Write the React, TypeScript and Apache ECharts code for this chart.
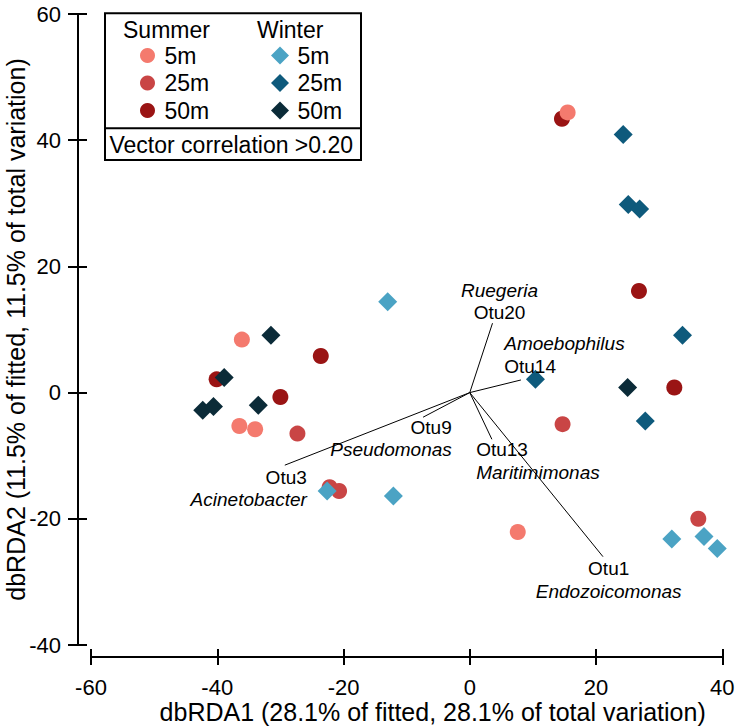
import React, { useEffect, useRef } from 'react';
import * as echarts from 'echarts';

// ---- data ----
const summer5m: number[][] = [[-36.1, 8.4], [-36.5, -5.3], [-34.0, -5.8], [15.5, 44.4], [7.6, -22.1]];
const summer25m: number[][] = [[-27.3, -6.5], [-22.2, -15.0], [-20.7, -15.6], [14.7, -5.0], [36.2, -20.0], [40.2, -24.4]];
const summer50m: number[][] = [[-40.1, 2.1], [-23.6, 5.8], [-30.0, -0.7], [14.6, 43.4], [26.8, 16.1], [32.4, 0.8]];
const winter5m: number[][] = [[-13.0, 14.4], [-22.6, -15.6], [-12.1, -16.4], [32.0, -23.2], [37.1, -22.8], [39.2, -24.7]];
const winter25m: number[][] = [[24.3, 40.9], [25.1, 29.8], [26.9, 29.1], [33.7, 9.1], [10.4, 2.1], [27.8, -4.5]];
const winter50m: number[][] = [[-31.5, 9.1], [-38.9, 2.4], [-42.3, -2.8], [-40.6, -2.2], [-33.5, -2.0], [25.0, 0.8]];

const vectorNames = ['Otu20', 'Otu14', 'Otu9', 'Otu13', 'Otu1', 'Otu3'];
const vectorGenera = ['Ruegeria', 'Amoebophilus', 'Pseudomonas', 'Maritimimonas', 'Endozoicomonas', 'Acinetobacter'];
const vectorX = [3.6, 8.1, -7.4, 3.5, 21.1, -29.3];
const vectorY = [11.0, 2.0, -3.9, -7.4, -26.0, -11.5];

const xTitle = 'dbRDA1 (28.1% of fitted, 28.1% of total variation)';
const yTitle = 'dbRDA2 (11.5% of fitted, 11.5% of total variation)';
const legendNote = 'Vector correlation >0.20';

// ---- styles ----
const FONT = '"Liberation Sans", Arial, Helvetica, sans-serif';
const colors = {
  s5: '#F47A6E',
  s25: '#C94545',
  s50: '#9A1414',
  w5: '#4BA3C4',
  w25: '#0E5A7C',
  w50: '#0B2B38',
};
const labelLayout = [
  { genusFirst: true, align: 'center', va: 'bottom', offset: [7, 1] },
  { genusFirst: true, align: 'left', va: 'bottom', offset: [-16.7, -2.3] },
  { genusFirst: false, align: 'right', va: 'top', offset: [28.7, -1.3] },
  { genusFirst: false, align: 'left', va: 'top', offset: [-15.7, -1] },
  { genusFirst: false, align: 'center', va: 'top', offset: [5.7, 0.6] },
  { genusFirst: false, align: 'right', va: 'top', offset: [22, 1] },
];

export default function App() {
  const ref = useRef<HTMLDivElement>(null);
  useEffect(() => {
    if (!ref.current) return;
    const chart = echarts.init(ref.current, null, { renderer: 'svg' });

    const circleSeries = (name: string, data: number[][], color: string) => ({
      name,
      type: 'scatter',
      data,
      symbol: 'circle',
      symbolSize: 16,
      itemStyle: { color, opacity: 1 },
      silent: true,
      z: 3,
    });
    const diamondSeries = (name: string, data: number[][], color: string) => ({
      name,
      type: 'scatter',
      data,
      symbol: 'diamond',
      symbolSize: 19,
      itemStyle: { color, opacity: 1 },
      silent: true,
      z: 4,
    });

    const axisCommonX = {
      type: 'value',
      min: -60,
      max: 40,
      interval: 20,
      position: 'bottom',
      offset: 12,
      splitLine: { show: false },
    };
    const axisCommonY = {
      type: 'value',
      min: -40,
      max: 60,
      interval: 20,
      position: 'left',
      offset: 13,
      splitLine: { show: false },
    };

    const option: any = {
      animation: false,
      backgroundColor: '#ffffff',
      textStyle: { fontFamily: FONT },
      grid: { left: 91, top: 14, width: 631.3, height: 631, containLabel: false, outerBoundsMode: 'none' },
      xAxis: [
        {
          ...axisCommonX,
          axisLine: { show: true, onZero: false, lineStyle: { color: '#000', width: 2 } },
          axisTick: { show: true, inside: false, length: 8, lineStyle: { color: '#000', width: 2 } },
          axisLabel: { color: '#000', fontSize: 22, margin: 19, fontFamily: FONT },
          name: xTitle,
          nameLocation: 'middle',
          nameGap: 42,
          nameMoveOverlap: false,
          nameTextStyle: { color: '#000', fontSize: 25, fontFamily: FONT, padding: [0, 0, 0, 52] },
        },
        {
          ...axisCommonX,
          axisLine: { show: false, onZero: false },
          axisTick: { show: true, inside: true, length: 8, lineStyle: { color: '#000', width: 2 } },
          axisLabel: { show: false },
        },
      ],
      yAxis: [
        {
          ...axisCommonY,
          axisLine: { show: true, onZero: false, lineStyle: { color: '#000', width: 2 } },
          axisTick: { show: true, inside: false, length: 10, lineStyle: { color: '#000', width: 2 } },
          axisLabel: { color: '#000', fontSize: 22, margin: 17, fontFamily: FONT },
          name: yTitle,
          nameLocation: 'middle',
          nameGap: 50,
          nameMoveOverlap: false,
          nameTextStyle: { color: '#000', fontSize: 25, fontFamily: FONT },
        },
        {
          ...axisCommonY,
          axisLine: { show: false, onZero: false },
          axisTick: { show: true, inside: true, length: 9, lineStyle: { color: '#000', width: 2 } },
          axisLabel: { show: false },
        },
      ],
      legend: [
        {
          data: ['Summer 5m', 'Summer 25m', 'Summer 50m'],
          orient: 'vertical',
          left: 140,
          top: 44,
          padding: 0,
          itemWidth: 15,
          itemHeight: 15,
          itemGap: 4.5,
          selectedMode: false,
          formatter: (n: string) => n.split(' ')[1],
          textStyle: { color: '#000', fontSize: 23, lineHeight: 22, fontFamily: FONT, padding: [0, 0, 0, 4.5] },
        },
        {
          data: ['Winter 5m', 'Winter 25m', 'Winter 50m'],
          orient: 'vertical',
          left: 271,
          top: 44,
          padding: 0,
          itemWidth: 18,
          itemHeight: 18,
          itemGap: 4.5,
          selectedMode: false,
          formatter: (n: string) => n.split(' ')[1],
          textStyle: { color: '#000', fontSize: 23, lineHeight: 22, fontFamily: FONT, padding: [0, 0, 0, 3.5] },
        },
      ],
      graphic: [
        {
          type: 'rect',
          shape: { x: 105, y: 13.3, width: 256, height: 146.7 },
          style: { fill: '#fff', stroke: '#000', lineWidth: 2 },
          z: 0,
        },
        {
          type: 'line',
          shape: { x1: 105, y1: 128.3, x2: 361, y2: 128.3 },
          style: { stroke: '#000', lineWidth: 2 },
          z: 1,
        },
        {
          type: 'text',
          x: 123,
          y: 30,
          style: { text: 'Summer', fill: '#000', fontSize: 23, fontFamily: FONT, verticalAlign: 'middle', align: 'left' },
          z: 2,
        },
        {
          type: 'text',
          x: 257,
          y: 30,
          style: { text: 'Winter', fill: '#000', fontSize: 23, fontFamily: FONT, verticalAlign: 'middle', align: 'left' },
          z: 2,
        },
        {
          type: 'text',
          x: 109.5,
          y: 145,
          style: { text: legendNote, fill: '#000', fontSize: 23, fontFamily: FONT, verticalAlign: 'middle', align: 'left' },
          z: 2,
        },
      ],
      series: [
        {
          name: 'vectors',
          type: 'lines',
          coordinateSystem: 'cartesian2d',
          polyline: false,
          silent: true,
          z: 2,
          lineStyle: { color: '#000', width: 1, opacity: 1, curveness: 0 },
          data: vectorX.map((x, i) => ({ coords: [[0, 0], [x, vectorY[i]]] })),
        },
        {
          name: 'vector labels',
          type: 'scatter',
          silent: true,
          symbolSize: 1,
          itemStyle: { color: 'rgba(0,0,0,0)' },
          z: 5,
          data: vectorX.map((x, i) => {
            const l = labelLayout[i];
            return {
              value: [x, vectorY[i]],
              label: {
                show: true,
                position: 'inside',
                align: l.align,
                verticalAlign: l.va,
                offset: l.offset,
                color: '#000',
                opacity: 1,
                textBorderWidth: 0,
                formatter: l.genusFirst
                  ? `{g|${vectorGenera[i]}}\n{n|${vectorNames[i]}}`
                  : `{n|${vectorNames[i]}}\n{g|${vectorGenera[i]}}`,
                rich: {
                  n: { fontSize: 19, lineHeight: 22.5, color: '#000', fontFamily: FONT, align: l.align, textBorderWidth: 0 },
                  g: { fontSize: 19, lineHeight: 22.5, color: '#000', fontFamily: FONT, fontStyle: 'italic', align: l.align, textBorderWidth: 0 },
                },
              },
            };
          }),
        },
        circleSeries('Summer 50m', summer50m, colors.s50),
        circleSeries('Summer 25m', summer25m, colors.s25),
        circleSeries('Summer 5m', summer5m, colors.s5),
        diamondSeries('Winter 50m', winter50m, colors.w50),
        diamondSeries('Winter 25m', winter25m, colors.w25),
        diamondSeries('Winter 5m', winter5m, colors.w5),
      ],
    };

    chart.setOption(option);
    return () => chart.dispose();
  }, []);

  return (
    <div
      ref={ref}
      style={{ position: 'fixed', left: 0, top: 0, width: 739, height: 727, background: '#fff' }}
    />
  );
}
